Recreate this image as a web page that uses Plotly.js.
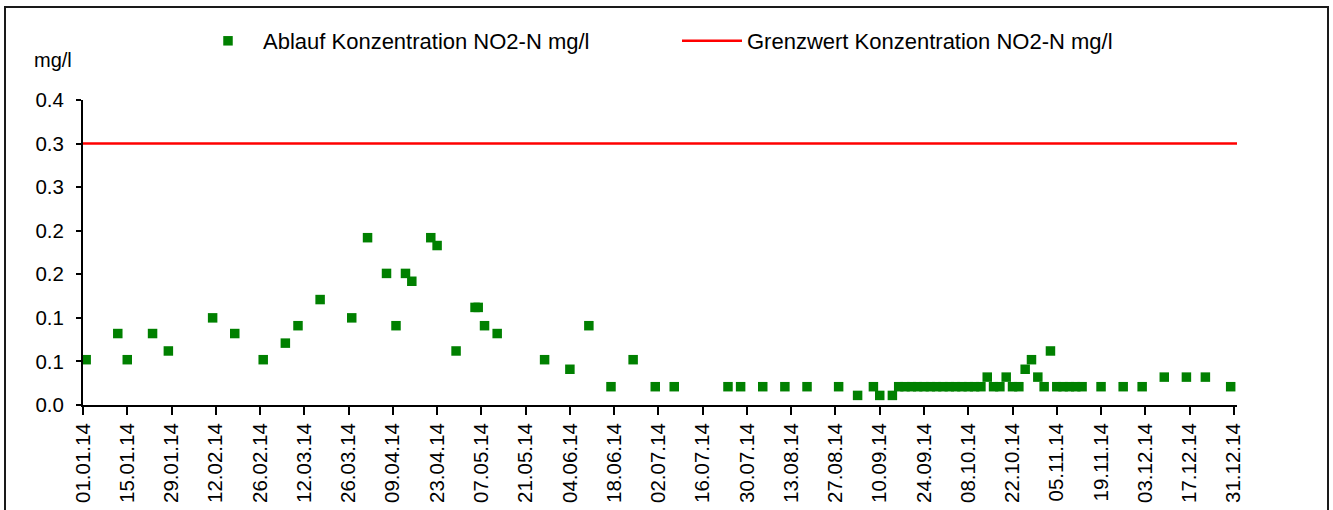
<!DOCTYPE html>
<html>
<head>
<meta charset="utf-8">
<script src="https://cdn.plot.ly/plotly-3.0.1.min.js"></script>
<style>
html, body { margin: 0; padding: 0; background: #ffffff; }
#chart { width: 1333px; height: 510px; }
</style>
</head>
<body>
<div id="chart"></div>
<script>
// ---------------- data ----------------
const seriesNames = ['Ablauf Konzentration NO2-N mg/l', 'Grenzwert Konzentration NO2-N mg/l'];
const yUnitLabel = 'mg/l';

const sampleDates = [
  '2014-01-02', '2014-01-12', '2014-01-15', '2014-01-23', '2014-01-28',
  '2014-02-11', '2014-02-18', '2014-02-27',
  '2014-03-06', '2014-03-10', '2014-03-17', '2014-03-27',
  '2014-04-01', '2014-04-07', '2014-04-10', '2014-04-13', '2014-04-15', '2014-04-21', '2014-04-23', '2014-04-29',
  '2014-05-05', '2014-05-06', '2014-05-08', '2014-05-12', '2014-05-27',
  '2014-06-04', '2014-06-10', '2014-06-17', '2014-06-24',
  '2014-07-01', '2014-07-07', '2014-07-24', '2014-07-28',
  '2014-08-04', '2014-08-11', '2014-08-18', '2014-08-28',
  '2014-09-03', '2014-09-08', '2014-09-10', '2014-09-14', '2014-09-16', '2014-09-18', '2014-09-20',
  '2014-09-22', '2014-09-24', '2014-09-26', '2014-09-28', '2014-09-30',
  '2014-10-02', '2014-10-04', '2014-10-06', '2014-10-08', '2014-10-10', '2014-10-12', '2014-10-14',
  '2014-10-16', '2014-10-18', '2014-10-20', '2014-10-22', '2014-10-24', '2014-10-26', '2014-10-28', '2014-10-30',
  '2014-11-01', '2014-11-03', '2014-11-05', '2014-11-07', '2014-11-09', '2014-11-11', '2014-11-13',
  '2014-11-19', '2014-11-26',
  '2014-12-02', '2014-12-09', '2014-12-16', '2014-12-22', '2014-12-30'
];

const nitriteValues = [
  0.052, 0.082, 0.052, 0.082, 0.062,
  0.100, 0.082, 0.052,
  0.071, 0.091, 0.121, 0.100,
  0.192, 0.151, 0.091, 0.151, 0.142, 0.192, 0.183, 0.062,
  0.112, 0.112, 0.091, 0.082, 0.052,
  0.041, 0.091, 0.021, 0.052,
  0.021, 0.021, 0.021, 0.021,
  0.021, 0.021, 0.021, 0.021,
  0.011, 0.021, 0.011, 0.011, 0.021, 0.021, 0.021,
  0.021, 0.021, 0.021, 0.021, 0.021,
  0.021, 0.021, 0.021, 0.021, 0.021, 0.021, 0.032,
  0.021, 0.021, 0.032, 0.021, 0.021, 0.041, 0.052, 0.032,
  0.021, 0.062, 0.021, 0.021, 0.021, 0.021, 0.021,
  0.021, 0.021,
  0.021, 0.032, 0.032, 0.032, 0.021
];

const limitDates = ['2014-01-01', '2015-01-01'];
const limitValues = [0.3, 0.3];

const xTickLabels = [
  '01.01.14', '15.01.14', '29.01.14', '12.02.14', '26.02.14', '12.03.14', '26.03.14',
  '09.04.14', '23.04.14', '07.05.14', '21.05.14', '04.06.14', '18.06.14', '02.07.14',
  '16.07.14', '30.07.14', '13.08.14', '27.08.14', '10.09.14', '24.09.14', '08.10.14',
  '22.10.14', '05.11.14', '19.11.14', '03.12.14', '17.12.14', '31.12.14'
];
const yTickValues = [0, 0.05, 0.1, 0.15, 0.2, 0.25, 0.3, 0.35];
const yTickLabels = ['0.0', '0.1', '0.1', '0.2', '0.2', '0.3', '0.3', '0.4'];

// ---------------- layout helpers ----------------
const W = 1333, H = 510;
const M = { l: 83, r: 96, t: 100, b: 105 };
const PW = W - M.l - M.r, PH = H - M.t - M.b;
const pxX = px => (px - M.l) / PW;
const pxY = py => (H - M.b - py) / PH;

const xTickDates = xTickLabels.map(s => {
  const [d, m, y] = s.split('.');
  return '20' + y + '-' + m + '-' + d;
});

const FONT = 'Liberation Sans, Arial, sans-serif';

const traces = [
  {
    type: 'scatter', mode: 'markers', name: seriesNames[0],
    x: sampleDates, y: nitriteValues,
    marker: { symbol: 'square', size: 9.5, color: '#008000', line: { width: 0 } },
    cliponaxis: false
  },
  {
    type: 'scatter', mode: 'lines', name: seriesNames[1],
    x: limitDates, y: limitValues,
    line: { color: '#ff0000', width: 2.5 }
  }
];

const layout = {
  width: W, height: H,
  margin: { l: M.l, r: M.r, t: M.t, b: M.b, autoexpand: false },
  paper_bgcolor: '#ffffff', plot_bgcolor: '#ffffff',
  font: { family: FONT, size: 20, color: '#000000' },
  showlegend: true,
  legend: {
    orientation: 'h', x: pxX(193), xanchor: 'left', y: pxY(41), yanchor: 'middle',
    itemwidth: 60, entrywidth: 409, entrywidthmode: 'pixels',
    font: { family: FONT, size: 22, color: '#000000' },
    bgcolor: 'rgba(0,0,0,0)', borderwidth: 0
  },
  xaxis: {
    type: 'date', range: ['2014-01-01', '2015-01-01'],
    tickmode: 'array', tickvals: xTickDates, ticktext: xTickLabels, tickangle: -90,
    ticks: 'outside', ticklen: 8, tickwidth: 2, tickcolor: '#000000',
    showline: true, linecolor: '#000000', linewidth: 2,
    showgrid: false, zeroline: false, fixedrange: true,
    tickfont: { family: FONT, size: 20.5, color: '#000000' }
  },
  yaxis: {
    range: [0, 0.35],
    tickmode: 'array', tickvals: yTickValues, ticktext: yTickLabels,
    ticks: 'outside', ticklen: 5, tickwidth: 2, tickcolor: '#000000',
    showline: true, linecolor: '#000000', linewidth: 2,
    showgrid: false, zeroline: false, fixedrange: true,
    ticklabelstandoff: 8,
    tickfont: { family: FONT, size: 20.5, color: '#000000' }
  },
  annotations: [
    {
      text: yUnitLabel, xref: 'paper', yref: 'paper', x: pxX(32), y: pxY(60),
      xanchor: 'left', yanchor: 'middle', showarrow: false,
      font: { family: FONT, size: 20, color: '#000000' }
    }
  ],
  shapes: [
    {
      type: 'rect', xref: 'paper', yref: 'paper',
      x0: pxX(5), x1: pxX(1328), y0: pxY(540), y1: pxY(7),
      line: { color: '#1a1a1a', width: 2 }, fillcolor: 'rgba(0,0,0,0)', layer: 'below'
    }
  ]
};

Plotly.newPlot('chart', traces, layout, { displayModeBar: false, staticPlot: true });
</script>
</body>
</html>
